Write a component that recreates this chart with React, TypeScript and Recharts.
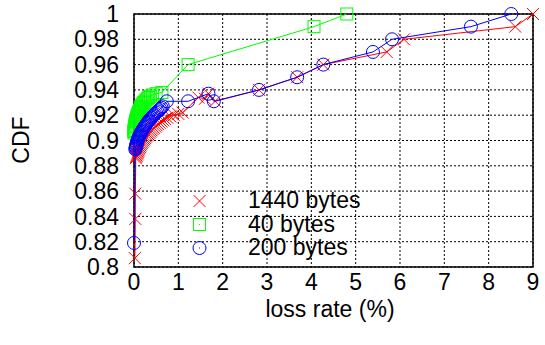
import React from "react";
import {
  ScatterChart,
  Scatter,
  XAxis,
  YAxis,
  CartesianGrid,
  ReferenceArea,
  Label,
} from "recharts";

const W = 545;
const H = 345;
const FONT = "'Liberation Sans', Arial, sans-serif";
const FS = 23;

const RED = "#ff0000";
const GREEN = "#00ff00";
const BLUE = "#0000ff";

// loss rate (%) / CDF pairs, one list per packet size
const x1440 = [
  0.02, 0.03, 0.03, 0.04, 0.05, 0.06, 0.07, 0.08, 0.09, 0.1, 0.11, 0.12, 0.13,
  0.145, 0.16, 0.175, 0.19, 0.21, 0.23, 0.25, 0.27, 0.295, 0.32, 0.345, 0.37,
  0.395, 0.42, 0.45, 0.48, 0.51, 0.54, 0.58, 0.62, 0.66, 0.7, 0.75, 0.82, 0.9,
  1.0, 1.1, 1.45, 1.6, 1.68, 1.83, 2.82, 3.68, 4.27, 5.7, 6.09, 8.6, 9.0,
];
const y1440 = [
  0.807, 0.838, 0.858, 0.886, 0.887, 0.888, 0.889, 0.89, 0.891, 0.892, 0.893,
  0.894, 0.895, 0.896, 0.897, 0.898, 0.899, 0.9, 0.901, 0.902, 0.903, 0.904,
  0.905, 0.906, 0.907, 0.908, 0.909, 0.91, 0.911, 0.912, 0.913, 0.914, 0.915,
  0.916, 0.917, 0.918, 0.919, 0.92, 0.921, 0.922, 0.934, 0.933, 0.937, 0.931,
  0.94, 0.95, 0.96, 0.97, 0.98, 0.99, 1.0,
];

const x40 = [
  0, 0, 0, 0.005, 0.01, 0.015, 0.02, 0.025, 0.03, 0.037, 0.045, 0.052, 0.06,
  0.07, 0.08, 0.09, 0.1, 0.112, 0.125, 0.137, 0.15, 0.165, 0.18, 0.2, 0.22,
  0.245, 0.27, 0.3, 0.33, 0.37, 0.42, 0.5, 0.63, 1.22, 4.06, 4.8,
];
const y40 = [
  0.906, 0.907, 0.908, 0.909, 0.91, 0.911, 0.912, 0.913, 0.914, 0.915, 0.916,
  0.917, 0.918, 0.919, 0.92, 0.921, 0.922, 0.923, 0.924, 0.925, 0.926, 0.927,
  0.928, 0.929, 0.93, 0.931, 0.932, 0.933, 0.934, 0.935, 0.936, 0.937, 0.938,
  0.96, 0.99, 1.0,
];

const x200 = [
  0.0, 0.03, 0.035, 0.04, 0.05, 0.055, 0.06, 0.07, 0.08, 0.09, 0.1, 0.11, 0.125,
  0.14, 0.155, 0.17, 0.185, 0.2, 0.22, 0.24, 0.26, 0.28, 0.3, 0.32, 0.345, 0.37,
  0.395, 0.42, 0.445, 0.47, 0.5, 0.53, 0.56, 0.59, 0.62, 0.65, 0.74, 1.22, 1.68,
  1.8, 2.82, 3.68, 4.27, 5.39, 5.82, 7.6, 8.51,
];
const y200 = [
  0.819, 0.893, 0.894, 0.895, 0.896, 0.897, 0.898, 0.899, 0.9, 0.901, 0.902,
  0.903, 0.904, 0.905, 0.906, 0.907, 0.908, 0.909, 0.91, 0.911, 0.912, 0.913,
  0.914, 0.915, 0.916, 0.917, 0.918, 0.919, 0.92, 0.921, 0.922, 0.923, 0.924,
  0.925, 0.926, 0.927, 0.931, 0.931, 0.937, 0.931, 0.94, 0.95, 0.96, 0.97,
  0.98, 0.99, 1.0,
];

const xTicks = [0, 1, 2, 3, 4, 5, 6, 7, 8, 9];
const yTicks = [0.8, 0.82, 0.84, 0.86, 0.88, 0.9, 0.92, 0.94, 0.96, 0.98, 1];

const zip = (xs: number[], ys: number[]) => xs.map((x, i) => ({ x, y: ys[i] }));

const series = [
  { name: "1440 bytes", color: RED, kind: "cross", data: zip(x1440, y1440) },
  { name: "40 bytes", color: GREEN, kind: "square", data: zip(x40, y40) },
  { name: "200 bytes", color: BLUE, kind: "circle", data: zip(x200, y200) },
];

// gnuplot-like point types
function Marker({ kind, color, cx, cy, dot }: any) {
  if (cx == null || cy == null) return null;
  if (kind === "cross") {
    const s = 6;
    return (
      <path
        d={`M${cx - s},${cy - s}L${cx + s},${cy + s}M${cx - s},${cy + s}L${cx + s},${cy - s}`}
        stroke={color}
        strokeWidth={1}
        fill="none"
      />
    );
  }
  if (kind === "square") {
    return (
      <g>
        <rect x={cx - 6} y={cy - 6} width={12} height={12} stroke={color} strokeWidth={1} fill="none" />
        {dot && <rect x={cx - 0.5} y={cy - 0.5} width={1} height={1} fill={color} />}
      </g>
    );
  }
  return (
    <g>
      <circle cx={cx} cy={cy} r={6.5} stroke={color} strokeWidth={1} fill="none" />
      {dot && <rect x={cx - 0.5} y={cy - 0.5} width={1} height={1} fill={color} />}
    </g>
  );
}

function KeyBox() {
  return (
    <svg
      width={W}
      height={H}
      style={{ position: "absolute", left: 0, top: 0, pointerEvents: "none" }}
    >
      {series.map((s, i) => (
        <g key={s.name}>
          <Marker kind={s.kind} color={s.color} cx={199.5} cy={201 + i * 23.5} dot />
          <text x={248} y={208 + i * 23.5} fontFamily={FONT} fontSize={FS} fill="#000">
            {s.name}
          </text>
        </g>
      ))}
    </svg>
  );
}

export default function App() {
  return (
    <div style={{ position: "absolute", left: 0, top: 0, width: W, height: H, background: "#fff" }}>
      <ScatterChart width={W} height={H} margin={{ top: 14, right: 12, bottom: 0, left: 0 }}>
        <CartesianGrid stroke="#000" strokeDasharray="2 2" strokeWidth={1} />
        <XAxis
          type="number"
          dataKey="x"
          domain={[0, 9]}
          ticks={xTicks}
          interval={0}
          height={78}
          axisLine={false}
          tickLine={false}
          tickSize={0}
          tickMargin={7}
          tick={{ fontSize: FS, fontFamily: FONT, fill: "#000" }}
        >
          <Label
            content={() => (
              <text x={330} y={317} textAnchor="middle" fontFamily={FONT} fontSize={FS} fill="#000">
                loss rate (%)
              </text>
            )}
          />
        </XAxis>
        <YAxis
          type="number"
          dataKey="y"
          domain={[0.8, 1]}
          ticks={yTicks}
          interval={0}
          width={134}
          axisLine={false}
          tickLine={false}
          tickSize={0}
          tickMargin={15}
          tickFormatter={(v) => String(v)}
          tick={{ fontSize: FS, fontFamily: FONT, fill: "#000" }}
        >
          <Label
            content={() => (
              <text
                x={21}
                y={140}
                transform="rotate(-90 21 140)"
                textAnchor="middle"
                dominantBaseline="central"
                fontFamily={FONT}
                fontSize={FS}
                fill="#000"
              >
                CDF
              </text>
            )}
          />
        </YAxis>
        <ReferenceArea
          x1={0}
          x2={9}
          y1={0.8}
          y2={1}
          fill="none"
          fillOpacity={0}
          stroke="#000"
          strokeWidth={1.5}
          ifOverflow="visible"
        />
        {series.map((s) => (
          <Scatter
            key={s.name}
            name={s.name}
            data={s.data}
            fill={s.color}
            line={{ stroke: s.color, strokeWidth: 1 }}
            shape={(p: any) => <Marker kind={s.kind} color={s.color} cx={p.cx} cy={p.cy} />}
            isAnimationActive={false}
          />
        ))}
      </ScatterChart>
      <KeyBox />
    </div>
  );
}
